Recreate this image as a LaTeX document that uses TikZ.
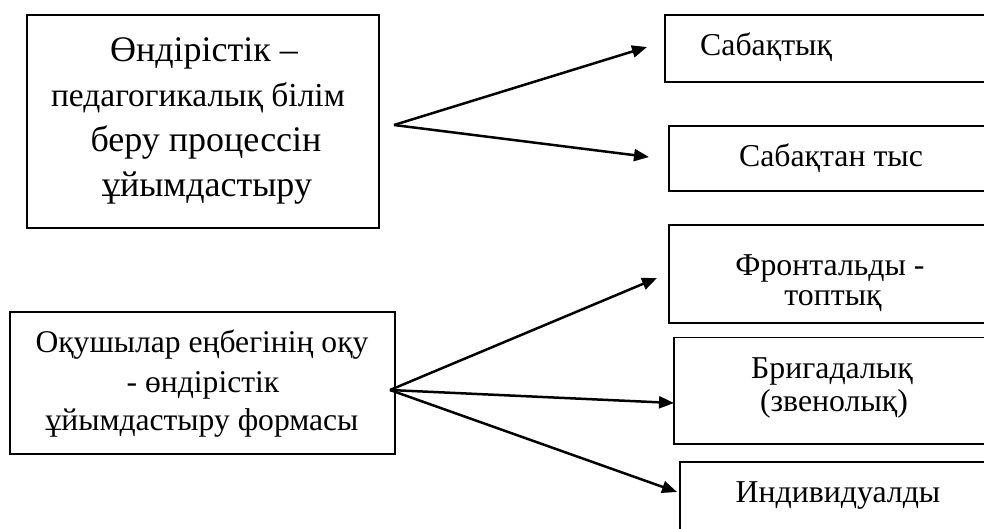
\documentclass[tikz,border=0pt]{standalone}
\usepackage{fontspec}
\setmainfont{Liberation Serif}
\usetikzlibrary{arrows.meta,calc}
\tikzset{
  box/.style={draw=black, line width=1.6pt, rectangle, inner sep=0pt, outer sep=0pt},
  arr/.style={draw=black, line width=2.5pt, -{Triangle[length=15pt,width=12pt]}},
  txt/.style={anchor=base, inner sep=0pt},
}
\newcommand{\fsA}{\fontsize{36pt}{45pt}\selectfont}
\newcommand{\fsAb}{\fontsize{33.5pt}{45pt}\selectfont}
\newcommand{\fsB}{\fontsize{31.6pt}{40pt}\selectfont}
\newcommand{\fsC}{\fontsize{31.8pt}{36pt}\selectfont}
\begin{document}
\begin{tikzpicture}[x=1pt,y=-1pt]
\clip (0,0) rectangle (984,528);
\fill[white] (0,0) rectangle (984,528);
% boxes
\node[box, minimum width=352pt, minimum height=213pt] (A) at (203,121.5) {};
\node[box, minimum width=325pt, minimum height=67pt] (B) at (827.5,48.5) {};
\node[box, minimum width=321pt, minimum height=65pt] (C) at (829.5,158.5) {};
\node[box, minimum width=385pt, minimum height=142pt] (D) at (202.5,383) {};
\node[box, minimum width=321pt, minimum height=98pt] (E) at (829.5,274) {};
\node[box, minimum width=316pt, minimum height=106.5pt] (F) at (832,390.75) {};
\node[box, minimum width=310pt, minimum height=98pt] (G) at (835,511) {};
% texts
\node[txt, font=\fsA] (a1) at (204,61) {Өндірістік –};
\node[txt, font=\fsAb] (a2) at (198,106) {педагогикалық білім};
\node[txt, font=\fsA] (a3) at (206,151) {беру процессін};
\node[txt, font=\fsA] (a4) at (207,196) {ұйымдастыру};
\node[txt, font=\fsB] (d1) at (202,352) {Оқушылар еңбегінің оқу};
\node[txt, font=\fsB] (d2) at (203,392) {- өндірістік};
\node[txt, font=\fsB] (d3) at (202,430) {ұйымдастыру формасы};
\node[txt, font=\fsC, anchor=base west] (b1) at (700,55) {Сабақтық};
\node[txt, font=\fsC] (c1) at (831,166) {Сабақтан тыс};
\node[txt, font=\fsC] (e1) at (830,275) {Фронтальды -};
\node[txt, font=\fsC] (e2) at (833,305) {топтық};
\node[txt, font=\fsC] (f1) at (832,378) {Бригадалық};
\node[txt, font=\fsC] (f2) at (834,411) {(звенолық)};
\node[txt, font=\fsC] (g1) at (838,502) {Индивидуалды};
% arrows
\coordinate (oA) at (394,125);
\coordinate (oD) at (390,390);
\draw[arr] (oA) -- ([shift={(-18,-1.5)}]B.west);
\draw[arr] (oA) -- ([shift={(-20,-1.5)}]C.west);
\draw[arr] (oD) -- ([shift={(-12,4)}]E.west);
\draw[arr] (oD) -- ([shift={(0,12.25)}]F.west);
\draw[arr] (oD) -- ([shift={(-3,-19)}]G.west);
\end{tikzpicture}
\end{document}
